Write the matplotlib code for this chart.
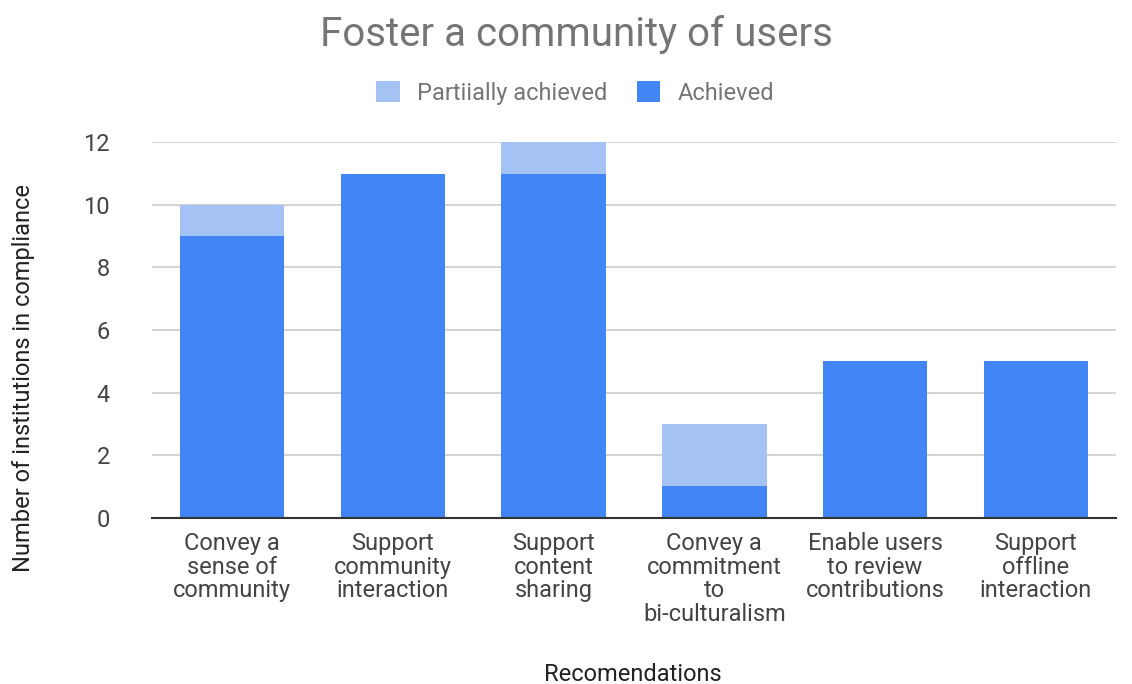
import matplotlib
matplotlib.use("Agg")
import matplotlib.pyplot as plt
import numpy as np

plt.rcParams['font.family'] = ['Roboto', 'DejaVu Sans']

categories = ["Convey a\nsense of\ncommunity", "Support\ncommunity\ninteraction",
              "Support\ncontent\nsharing", "Convey a\ncommitment\nto\nbi-culturalism",
              "Enable users\nto review\ncontributions", "Support\noffline\ninteraction"]
achieved = [9, 11, 11, 1, 5, 5]
partial = [1, 0, 1, 2, 0, 0]
yticks = [0, 2, 4, 6, 8, 10, 12]

fig = plt.figure(figsize=(11.32, 6.84), dpi=100)
ax = fig.add_axes([0.134, 0.243, 0.852, 0.549])
x = np.arange(len(categories))
w = 0.65
ax.bar(x, achieved, width=w, color="#4285F4", zorder=3, label="Achieved")
ax.bar(x, partial, width=w, bottom=achieved, color="#A4C2F4", zorder=3, label="Partiially achieved")

ax.set_xlim(-0.5, 5.5)
ax.set_ylim(0, 12)
ax.set_yticks(yticks)
ax.grid(axis='y', color="#cccccc", linewidth=1.2, zorder=0)
for s in ['top', 'right', 'left']:
    ax.spines[s].set_visible(False)
ax.spines['bottom'].set_color("#333333")
ax.spines['bottom'].set_linewidth(1.5)
ax.spines['bottom'].set_zorder(4)
ax.tick_params(axis='both', length=0, labelsize=17, labelcolor="#444444")
ax.tick_params(axis='y', pad=30)
ax.set_xticks(x)
ax.set_xticklabels(categories, linespacing=1.05)
ax.tick_params(axis='x', pad=10)

fig.text(0.021, 0.447, "Number of institutions in compliance", fontsize=17, color="#222222",
         rotation=90, ha='center', va='center')
fig.text(0.559, 0.014, "Recomendations", fontsize=17, color="#222222", ha='center', va='center')

fig.text(0.509, 0.950, "Foster a community of users", fontsize=29, color="#757575", ha='center', va='center')

handles, labels = ax.get_legend_handles_labels()
leg = fig.legend(handles[::-1], labels[::-1], loc='center', bbox_to_anchor=(0.508, 0.864), ncol=2,
                 frameon=False, fontsize=17, handlelength=1.0, handleheight=1.0, columnspacing=1.25,
                 handletextpad=0.72)
for t in leg.get_texts():
    t.set_color("#757575")

fig.savefig("out.png", dpi=100)
